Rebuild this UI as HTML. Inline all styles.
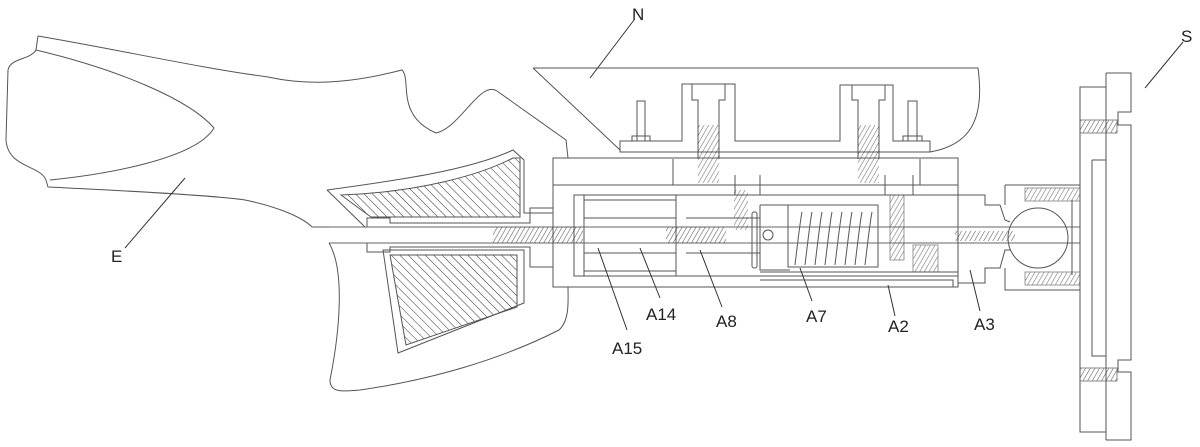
<!DOCTYPE html>
<html><head><meta charset="utf-8"><style>
html,body{margin:0;padding:0;background:#fff;}
svg{display:block}
text{font-family:"Liberation Sans",sans-serif;font-size:17px;fill:#222}
</style></head><body>
<svg width="1200" height="447" viewBox="0 0 1200 447" xmlns="http://www.w3.org/2000/svg">
<defs>
<pattern id="h" patternUnits="userSpaceOnUse" width="6" height="6" patternTransform="rotate(-45)">
<line x1="0" y1="0" x2="0" y2="6" stroke="#333" stroke-width="1"/></pattern>
<pattern id="h2" patternUnits="userSpaceOnUse" width="4" height="4" patternTransform="rotate(30)">
<line x1="0" y1="0" x2="0" y2="4" stroke="#222" stroke-width="1.2"/></pattern>
</defs>
<g fill="none" stroke="#555" stroke-width="1">
<path d="M38 36 L36 50 C30 60 10 58 8 70 L6 140 C8 168 40 165 46 180 L48 187 C150 192 220 196 245 200 C270 205 300 215 312 227 L367 227"/>
<path d="M38 36 C120 50 200 68 268 77 C300 84 340 86 402 70 C412 80 395 115 436 133 C460 128 480 80 497 91 L566 140 L568 158"/>
<path d="M36 50 C120 70 190 100 214 128 C195 160 100 175 50 180"/>
<path d="M329 243 L367 243"/>
<path d="M329 243 C345 270 340 330 330 380 C330 392 340 392 360 390 C430 380 500 360 559 330 C570 320 568 300 568 287"/>
<path d="M327 190 C400 180 470 170 513 150 L524 160 L524 213 L553 213"/>
<path d="M327 190 L365 227"/>
<path d="M383 250 L524 250 L524 303 L398 353 Z"/>
<path d="M341 195 C420 192 480 175 513 158 L520 158 L520 217 L371 217 Z" fill="url(#h)"/>
<path d="M390 255 L517 255 L517 307 L406 345 Z" fill="url(#h)"/>
<path d="M367 227 L367 218 L390 218 L390 223 L530 223 L530 208 L553 208 M367 243 L367 252 L390 252 L390 247 L530 247 L530 267 L553 267"/>
<path d="M533 68 L978 68 C985 120 970 145 930 152 M533 68 L620 150"/>
<path d="M620 152 L620 141 L682 141 L682 84 L735 84 L735 141 L840 141 L840 85 L893 85 L893 141 L930 141 L930 152 Z"/>
<path d="M692 84 L692 100 L698 100 L698 159 M725 84 L725 100 L719 100 L719 159"/>
<path d="M852 85 L852 100 L858 100 L858 159 M885 85 L885 100 L879 100 L879 159"/>
<path d="M637 141 L637 101 L645 101 L645 141 M632 141 L632 136 L650 136 L650 141"/>
<path d="M908 141 L908 101 L917 101 L917 141 M903 141 L903 136 L922 136 L922 141"/>
<rect x="698" y="125" width="21" height="58" fill="url(#h2)" stroke="none" opacity=".6"/>
<rect x="858" y="125" width="21" height="58" fill="url(#h2)" stroke="none" opacity=".6"/>
<rect x="553" y="158" width="405" height="129"/>
<path d="M553 185 L958 185 M673 159 L673 185 M920 159 L920 185 M735 175 L735 195 L760 195 L760 175 M885 175 L885 195 M913 175 L913 195 L925 195"/>
<rect x="734" y="190" width="14" height="40" fill="url(#h2)" stroke="none" opacity=".6"/>
<rect x="574" y="195" width="384" height="81"/>
<path d="M584 195 L584 276 M584 200 L676 200 L676 218 L584 218 M584 253 L676 253 L676 271 L584 271 M676 195 L676 276"/>
<path d="M686 218 L760 218 M686 253 L760 253 M760 205 L760 270 L790 270 M760 205 L790 205"/>
<path d="M760 272 L958 272 M760 280 L953 280 L953 287"/>
<rect x="788" y="205" width="90" height="62"/>
<path d="M795 265 C798 240 800 222 802 212 M805 265 C808 240 810 222 812 212 M815 265 C818 240 820 222 822 212 M825 265 C828 240 830 222 832 212 M835 265 C838 240 840 222 842 212 M845 265 C848 240 850 222 852 212 M855 265 C858 240 860 222 862 212 M865 265 C868 240 870 222 872 212"/>
<circle cx="768" cy="235" r="5"/>
<rect x="752" y="212" width="5" height="56" rx="2"/>
<rect x="890" y="195" width="14" height="65" fill="url(#h2)" opacity=".6"/>
<rect x="913" y="245" width="25" height="27" fill="url(#h2)" opacity=".6"/>
<path d="M330 227 L1080 227 M330 243 L1080 243" stroke="#666"/>
<rect x="493" y="227" width="90" height="16" fill="url(#h2)" stroke="none" opacity=".7"/>
<rect x="666" y="227" width="60" height="16" fill="url(#h2)" stroke="none" opacity=".7"/>
<rect x="955" y="231" width="60" height="10" fill="url(#h2)" stroke="none" opacity=".7"/>
<path d="M958 195 L985 195 L985 205 L1000 205 L1005 220 L1010 222 M958 283 L985 283 L985 268 L1000 268 L1005 250 L1010 250"/>
<path d="M1005 185 L1080 185 M1005 185 L1005 205 M1005 268 L1005 290 L1080 290"/>
<circle cx="1038" cy="238" r="30"/>
<rect x="1025" y="188" width="55" height="13" fill="url(#h2)" opacity=".6"/>
<rect x="1025" y="272" width="55" height="13" fill="url(#h2)" opacity=".6"/>
<path d="M1080 200 L1080 275 M1072 200 L1072 275"/>
<rect x="1080" y="87" width="26" height="345"/>
<path d="M1106 73 L1131 73 L1131 112 L1118 112 L1118 125 L1131 125 L1131 360 L1118 360 L1118 372 L1131 372 L1131 440 L1106 440 M1106 73 L1106 440"/>
<path d="M1092 160 L1106 160 M1092 160 L1092 356 L1106 356"/>
<rect x="1080" y="120" width="37" height="13" fill="url(#h2)" opacity=".7"/>
<rect x="1080" y="368" width="37" height="13" fill="url(#h2)" opacity=".7"/>
<path stroke="#333" d="M634 20 L590 78 M1183 42 L1145 88 M125 248 L185 178 M627 330 L598 248 M660 298 L640 248 M722 307 L700 250 M812 301 L800 268 M895 316 L888 285 M980 311 L970 270"/>
</g>
<text x="632" y="20">N</text>
<text x="1181" y="42">S</text>
<text x="111" y="262">E</text>
<text x="612" y="354">A15</text>
<text x="646" y="320">A14</text>
<text x="716" y="327">A8</text>
<text x="806" y="322">A7</text>
<text x="888" y="332">A2</text>
<text x="974" y="330">A3</text>
</svg>
</body></html>
